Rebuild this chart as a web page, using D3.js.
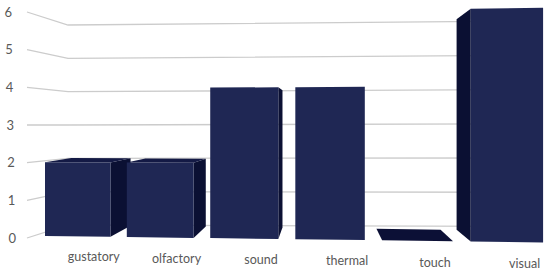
<!DOCTYPE html>
<html>
<head>
<meta charset="utf-8">
<script src="https://cdn.jsdelivr.net/npm/d3@7"></script>
<style>
  html, body { margin: 0; padding: 0; background: #ffffff; }
  svg { display: block; }
</style>
</head>
<body>
<svg id="chart" width="550" height="273"></svg>
<script>
// ---- data ----
const categories = ["gustatory", "olfactory", "sound", "thermal", "touch", "visual"];
const values = [2, 2, 4, 4, 0, 6];
const yTicks = [0, 1, 2, 3, 4, 5, 6];

// ---- layout / perspective constants ----
const X0 = 45;          // screen x of world x = 0 (front plane)
const G = 0.00012;      // perspective growth toward the right
const YH = 129;         // horizon of the front plane
const VPB = [322, 119]; // vanishing point for bar depth
const KB = 0.905;       // depth factor of bar back faces
const LABEL_WY = 256.2; // world y for category labels

const svg = d3.select("#chart");

// world scales
const x = d3.scaleBand().domain(categories).range([0, 470]).paddingInner(0.198).paddingOuter(0);
const y = d3.scaleLinear().domain([0, 6]).range([236, 14.6]);

// wall gridline scales
const wallFrontY = d3.scaleLinear().domain([0, 6]).range([238, 12]);   // at x = 27
const wallBackLY = d3.scaleLinear().domain([0, 6]).range([225, 25]);   // at x = 68
const wallBackRY = d3.scaleLinear().domain([0, 6]).range([226.5, 21]); // at x = 520
const tickX = d3.scaleLinear().domain([0, 6]).range([12.3, 8.3]);

function proj(Xw, Yw) {
  const q = 1 / (1 - G * Xw);
  return [X0 + Xw * q, YH + (Yw - YH) * q];
}
function back(p) {
  return [VPB[0] + KB * (p[0] - VPB[0]), VPB[1] + KB * (p[1] - VPB[1])];
}
const line = d3.line();

// ---- gridlines (side wall + back wall) ----
const grid = svg.append("g").attr("fill", "none").attr("stroke", "#cccccc").attr("stroke-width", 1.3);
grid.selectAll("path").data(yTicks).join("path")
  .attr("d", v => line([[27, wallFrontY(v)], [68, wallBackLY(v)], [520, wallBackRY(v)]]));

// ---- y tick labels ----
svg.append("g").selectAll("text").data(yTicks).join("text")
  .attr("x", v => tickX(v))
  .attr("y", v => wallFrontY(v))
  .attr("dy", "0.35em")
  .attr("text-anchor", "middle")
  .attr("font-family", "Lato, 'Open Sans', sans-serif")
  .attr("font-size", 13)
  .attr("fill", "#595959")
  .text(d => d);

// ---- bars ----
const bars = categories.map((c, i) => {
  const x1 = x(c), x2 = x(c) + x.bandwidth();
  const v = values[i];
  const FLt = proj(x1, y(v)), FRt = proj(x2, y(v));
  const FLb = proj(x1, y(0)), FRb = proj(x2, y(0));
  return { c, v, FLt, FRt, FLb, FRb, cx: (FLt[0] + FRt[0]) / 2 };
});
bars.sort((a, b) => Math.abs(b.cx - VPB[0]) - Math.abs(a.cx - VPB[0]));

const gBars = svg.append("g");
bars.forEach(b => {
  const g = gBars.append("g");
  if (b.FRt[0] < VPB[0] && b.v > 0) {
    g.append("path").attr("fill", "#0b1033")
      .attr("d", line([b.FRt, back(b.FRt), back(b.FRb), b.FRb]) + "Z");
  }
  if (b.FLt[0] > VPB[0] && b.v > 0) {
    g.append("path").attr("fill", "#0b1033")
      .attr("d", line([b.FLt, back(b.FLt), back(b.FLb), b.FLb]) + "Z");
  }
  if (b.FLt[1] > VPB[1]) {
    g.append("path").attr("fill", b.v > 0 ? "#141a45" : "#0c1036")
      .attr("d", line([b.FLt, b.FRt, back(b.FRt), back(b.FLt)]) + "Z");
  }
  if (b.v > 0) {
    g.append("path").attr("fill", "#1f2754")
      .attr("d", line([b.FLt, b.FRt, b.FRb, b.FLb]) + "Z");
  }
});

// ---- category labels ----
svg.append("g").selectAll("text").data(categories).join("text")
  .each(function (c) {
    const p = proj(x(c) + x.bandwidth() / 2 + 16, LABEL_WY);
    d3.select(this).attr("x", p[0]).attr("y", p[1]);
  })
  .attr("dy", "0.35em")
  .attr("text-anchor", "middle")
  .attr("font-family", "Lato, 'Open Sans', sans-serif")
  .attr("font-size", 12.5)
  .attr("fill", "#595959")
  .text(d => d);
</script>
</body>
</html>
